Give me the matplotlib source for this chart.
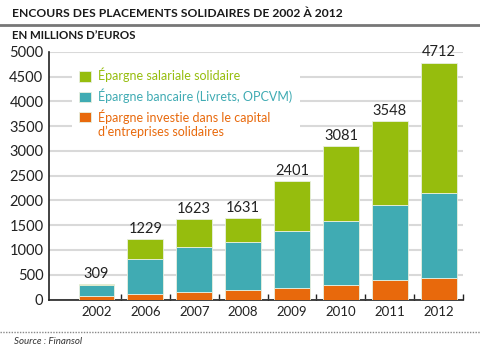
import numpy as np
import matplotlib
matplotlib.use("Agg")
import matplotlib.pyplot as plt
from matplotlib.lines import Line2D

plt.rcParams['font.family'] = ['Lato', 'DejaVu Sans']

years = ['2002', '2006', '2007', '2008', '2009', '2010', '2011', '2012']
# segment heights as drawn in the picture
capital = [65, 117, 157, 186, 238, 287, 387, 440]
bancaire = [222, 700, 902, 980, 1150, 1303, 1514, 1715]
salariale = [22, 398, 559, 472, 1003, 1507, 1701, 2623]
# totals printed above the bars
totals = [309, 1229, 1623, 1631, 2401, 3081, 3548, 4712]

labels = ['Épargne salariale solidaire',
          'Épargne bancaire (Livrets, OPCVM)',
          "Épargne investie dans le capital\nd’entreprises solidaires"]
colors = ['#96bd0d', '#40abb3', '#e8690c']

fig = plt.figure(figsize=(4.8, 3.58), dpi=100)
ax = fig.add_axes([0.102, 0.1634, 0.863, 0.692])

x = np.arange(len(years))
w = 0.73
ec = '#e8f0e0'
b1 = ax.bar(x, capital, w, color=colors[2], edgecolor=ec, linewidth=0.6, zorder=3)
b2 = ax.bar(x, bancaire, w, bottom=capital, color=colors[1], edgecolor=ec, linewidth=0.6, zorder=3)
bot = np.array(capital) + np.array(bancaire)
b3 = ax.bar(x, salariale, w, bottom=bot, color=colors[0], edgecolor=ec, linewidth=0.6, zorder=3)
ax.bar_label(b3, labels=[str(t) for t in totals], padding=2.5, fontsize=10.5, color='#222222')

ax.set_xlim(-0.97, 7.48)
ax.set_ylim(0, 5000)
ax.set_yticks(np.arange(0, 5001, 500))
ax.set_xticks(x)
ax.set_xticklabels(years)
ax.set_xticks(np.arange(0.5, 8, 1), minor=True)
ax.tick_params(axis='x', which='major', length=0, pad=4.5, labelsize=9.5, colors='#222222')
ax.tick_params(axis='x', which='minor', direction='in', length=4, width=1, color='#222222')
ax.tick_params(axis='y', length=0, pad=4, labelsize=10.5, colors='#222222')
ax.grid(axis='y', color='#d9d9d9', linewidth=1.5, zorder=0)
ax.set_axisbelow(True)
for s in ['top', 'right']:
    ax.spines[s].set_visible(False)
for s in ['left', 'bottom']:
    ax.spines[s].set_color('#222222')
    ax.spines[s].set_linewidth(1.2)

leg = ax.legend([b3, b2, b1], labels, loc='upper left', bbox_to_anchor=(0.04, 0.99),
                fontsize=9, frameon=True, facecolor='white', edgecolor='none',
                framealpha=1, fancybox=False, handlelength=0.95, handleheight=0.95,
                handletextpad=0.55, labelspacing=0.5, borderpad=0.6)
for t, c in zip(leg.get_texts(), colors):
    t.set_color(c)
# square of the two-line entry sits next to its first line
h = leg.legend_handles[2]
h.set_y(h.get_y() + 5.5)
leg.set_zorder(5)

fig.text(0.025, 0.963, 'ENCOURS DES PLACEMENTS SOLIDAIRES DE 2002 À 2012',
         fontsize=8.7, fontweight='bold', color='#1a1a1a', va='center')
fig.add_artist(Line2D([0, 1], [0.931, 0.931], color='#777777', linewidth=2))
fig.text(0.025, 0.902, 'EN MILLIONS D’EUROS', fontsize=8.3, fontweight='bold',
         color='#1a1a1a', va='center')
fig.add_artist(Line2D([0, 1], [0.073, 0.073], color='#888888', linewidth=1,
                      linestyle=(0, (1, 1))))
fig.text(0.03, 0.047, 'Source : Finansol', fontsize=7, style='italic',
         color='#333333', va='center')

fig.savefig('out.png', dpi=100)
